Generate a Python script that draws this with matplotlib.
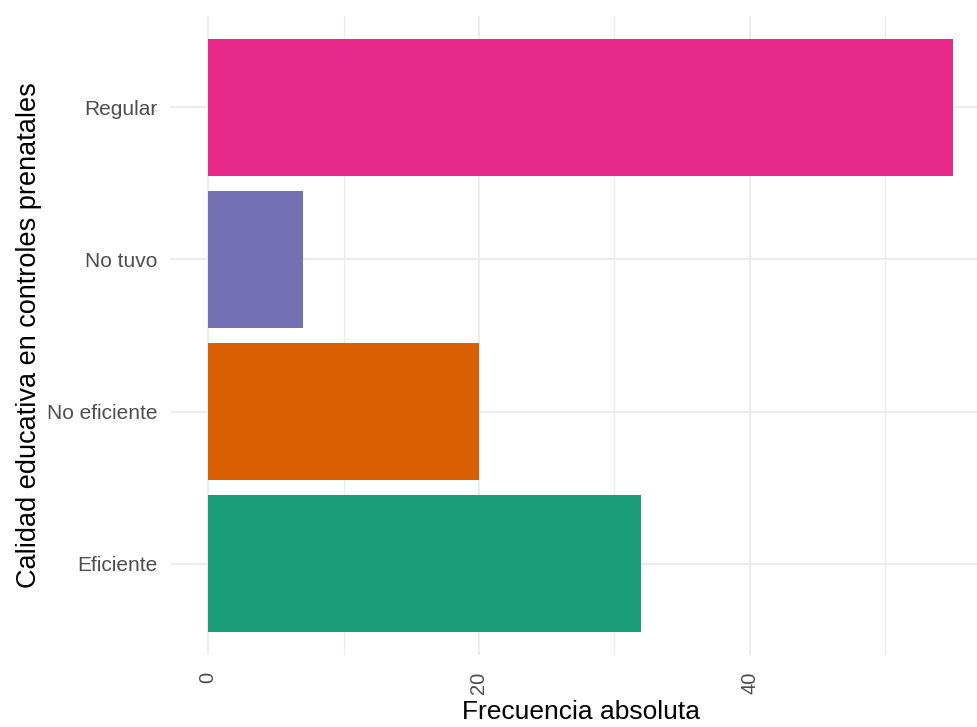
import matplotlib
matplotlib.use("Agg")
import matplotlib.pyplot as plt
from matplotlib.ticker import MultipleLocator

categories = ["Eficiente", "No eficiente", "No tuvo", "Regular"]
values = [32, 20, 7, 55]
colors = ["#1B9E77", "#D95F02", "#7570B3", "#E7298A"]
x_ticks = [0, 20, 40]

plt.rcParams['font.family'] = ['Liberation Sans', 'DejaVu Sans']

fig = plt.figure(figsize=(9.77, 7.27), dpi=100)
ax = fig.add_axes([171/977, 1 - 655/727, (990 - 171)/977, (655 - 16)/727])

ypos = list(range(len(categories)))
ax.barh(ypos, values, height=0.9, color=colors, zorder=2)

ax.set_xlim(-2.75, 57.75)
ax.set_ylim(-0.6, 3.6)
ax.set_xticks(x_ticks)
ax.set_xticklabels([str(t) for t in x_ticks], rotation=90, fontsize=14.5, color="#4d4d4d")
ax.xaxis.set_minor_locator(MultipleLocator(10))
ax.set_yticks(ypos)
ax.set_yticklabels(categories, fontsize=15, color="#4d4d4d")

ax.grid(True, which="major", color="#ebebeb", linewidth=1.3, zorder=0)
ax.grid(True, which="minor", axis="x", color="#ebebeb", linewidth=1.0, zorder=0)
ax.tick_params(axis="both", which="both", length=0)
ax.tick_params(axis="x", pad=12)
ax.tick_params(axis="y", pad=10)
for s in ax.spines.values():
    s.set_visible(False)
ax.set_axisbelow(True)

ax.set_xlabel("Frecuencia absoluta", fontsize=19, color="black", labelpad=4)
ax.set_ylabel("Calidad educativa en controles prenatales", fontsize=19.5, color="black", labelpad=3)

fig.savefig("out.png", dpi=100)
